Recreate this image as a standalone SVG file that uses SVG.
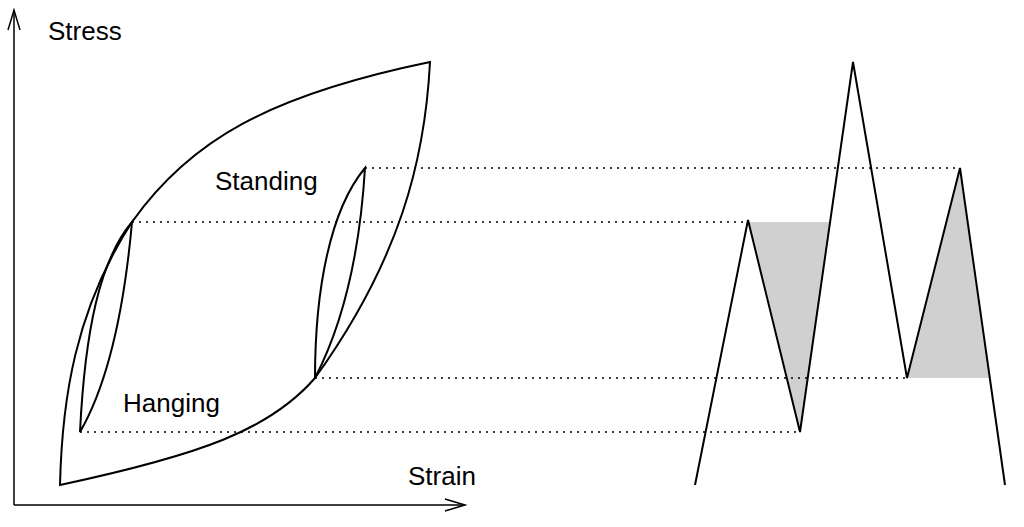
<svg xmlns="http://www.w3.org/2000/svg" width="1024" height="527" viewBox="0 0 1024 527">
<style>
.l{fill:none;stroke:#000;stroke-width:2}
.d{fill:none;stroke:#000;stroke-width:1.5;stroke-dasharray:2 5}
.t{font-family:"Liberation Sans",Arial,sans-serif;font-size:26px;fill:#000}
</style>
<rect width="1024" height="527" fill="#fff"/>
<g id="axes">
<path class="l" d="M14,505 V10 M14,505 H465" style="stroke-width:1.5"/>
<path class="l" d="M8,30 L14,10 L20,30 M445,499 L465,505 L445,511" style="stroke-width:1.5"/>
<text class="t" x="48" y="40">Stress</text>
<text class="t" x="408" y="485">Strain</text>
</g>
<g id="shading" fill="#d0d0d0">
<polygon points="748,222 830,222 800,432"/>
<polygon points="907,378 960,168 990,378"/>
</g>
<g id="connectors">
<path class="d" d="M365,168 H960 M132,222 H748 M315,378 H907 M80,432 H800"/>
</g>
<g id="loops">
<path class="l" d="M60,485 C62,400 75,310 132,222 C190,140 270,95 430,62 C425,160 400,260 315,378 C270,430 200,455 60,485 Z"/>
<path class="l" d="M80,432 C85,330 100,260 132,222 C125,300 110,380 80,432 Z"/>
<path class="l" d="M315,378 C315,290 330,210 365,168 C360,250 345,320 315,378 Z"/>
<text class="t" x="215" y="190">Standing</text>
<text class="t" x="123" y="412">Hanging</text>
</g>
<g id="history">
<polyline class="l" points="695,485 748,220 800,432 853,62 907,378 960,168 1005,485"/>
</g>
</svg>
